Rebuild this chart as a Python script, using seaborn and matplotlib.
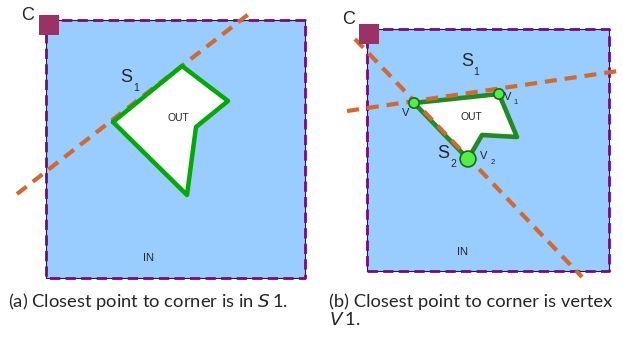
import matplotlib
matplotlib.use("Agg")
import matplotlib.pyplot as plt
import seaborn as sns
import pandas as pd

sns.set_style("white")
plt.rcParams['font.family'] = ['Liberation Sans', 'DejaVu Sans']

# ---- data (pixel coordinates of the diagram) ----
# panel (a)
sq_a_x = [46, 305, 305, 46, 46]
sq_a_y = [20, 20, 278, 278, 20]
poly_a_x = [113, 182, 228, 196, 187, 113]
poly_a_y = [122, 66, 101, 127, 195, 122]
line_a_x = [17, 250]
line_a_y = [194, 13]
corner_a = (48.5, 24.5)

# panel (b)
sq_b_x = [367, 609, 609, 367, 367]
sq_b_y = [29, 29, 271, 271, 29]
poly_b_x = [414, 499, 517, 482, 468, 414]
poly_b_y = [103, 94, 137, 135, 159, 103]
line_b1_x = [347, 618]
line_b1_y = [111, 71]
line_b2_x = [355, 582]
line_b2_y = [39, 277]
corner_b = (369, 33.5)
vert_b_x = [414, 499, 468]
vert_b_y = [103, 94, 159]
vert_b_size = [60, 60, 130]

captions = ["(a) Closest point to corner is in ", "(b) Closest point to corner is vertex"]

BLUE = "#99ccff"
PURPLE = "#7a0a7a"
ORANGE = "#d2692e"
GREEN_A = "#00aa00"
GREEN_B = "#238a1f"
MAROON = "#993366"

fig = plt.figure(figsize=(6.23, 3.37), dpi=100)
ax = fig.add_axes([0, 0, 1, 1])
ax.set_xlim(0, 623)
ax.set_ylim(337, 0)
ax.axis("off")


def square(xs, ys):
    ax.fill(xs, ys, color=BLUE, zorder=1, lw=0)
    ax.plot(xs, ys, color="#222222", lw=0.8, zorder=2)
    ax.plot(xs, ys, color=PURPLE, lw=2.0, dashes=(3.7, 1.9), zorder=3)


def dashed(xs, ys, z):
    df = pd.DataFrame({"x": xs, "y": ys})
    sns.lineplot(data=df, x="x", y="y", sort=False, ax=ax, color=ORANGE,
                 lw=3, zorder=z, estimator=None)
    ax.lines[-1].set_dashes((2.9, 1.9))
    ax.lines[-1].set_dash_capstyle("butt")


# panel a
square(sq_a_x, sq_a_y)
dashed(line_a_x, line_a_y, 3.5)
ax.fill(poly_a_x, poly_a_y, color="white", zorder=4, lw=0)
sns.lineplot(x=poly_a_x, y=poly_a_y, sort=False, ax=ax, color=GREEN_A, lw=3.2,
             zorder=6, estimator=None)
ax.scatter([corner_a[0]], [corner_a[1]], marker="s", s=200, color=MAROON, zorder=7, lw=0)
txt = dict(ha="center", va="center", zorder=10)
ax.text(28, 15, "C", fontsize=13, **txt)
ax.text(126, 77, "S", fontsize=13, **txt)
ax.text(136, 88, "1", fontsize=7.5, **txt)
ax.text(178, 118, "OUT", fontsize=7.5, **txt)
ax.text(149, 258, "IN", fontsize=8, **txt)

# panel b
square(sq_b_x, sq_b_y)
ax.fill(poly_b_x, poly_b_y, color="white", zorder=4, lw=0)
sns.lineplot(x=poly_b_x, y=poly_b_y, sort=False, ax=ax, color=GREEN_B, lw=3.3,
             zorder=5, estimator=None)
dashed(line_b1_x, line_b1_y, 6)
dashed(line_b2_x, line_b2_y, 6)
sns.scatterplot(x=vert_b_x, y=vert_b_y, size=vert_b_size, sizes=(55, 130),
                color="#55ee44", edgecolor="#1a6a14", linewidth=1.2, zorder=8,
                ax=ax, legend=False)
ax.scatter([corner_b[0]], [corner_b[1]], marker="s", s=200, color=MAROON, zorder=7, lw=0)
ax.text(349, 20, "C", fontsize=13, **txt)
ax.text(467, 61, "S", fontsize=13, **txt)
ax.text(476, 72, "1", fontsize=7.5, **txt)
ax.text(443, 153, "S", fontsize=13, **txt)
ax.text(453, 164, "2", fontsize=7.5, **txt)
ax.text(406, 113, "V", fontsize=8, **txt)
ax.text(508, 97, "V", fontsize=8, **txt)
ax.text(516, 103, "1", fontsize=5.5, **txt)
ax.text(484, 156, "V", fontsize=8, **txt)
ax.text(493, 163, "2", fontsize=5.5, **txt)
ax.text(471, 117, "OUT", fontsize=7.5, **txt)
ax.text(463, 252, "IN", fontsize=8, **txt)

# captions
cap_font = dict(fontsize=13.2, family=["Lato", "DejaVu Sans"], va="baseline", ha="left")
ax.text(8, 307, captions[0] + r"$\mathit{S}\,$1.", **cap_font)
ax.text(329, 307, captions[1], **cap_font)
ax.text(329, 325, r"$\mathit{V}\,$1.", **cap_font)

fig.savefig("out.png", dpi=100)
